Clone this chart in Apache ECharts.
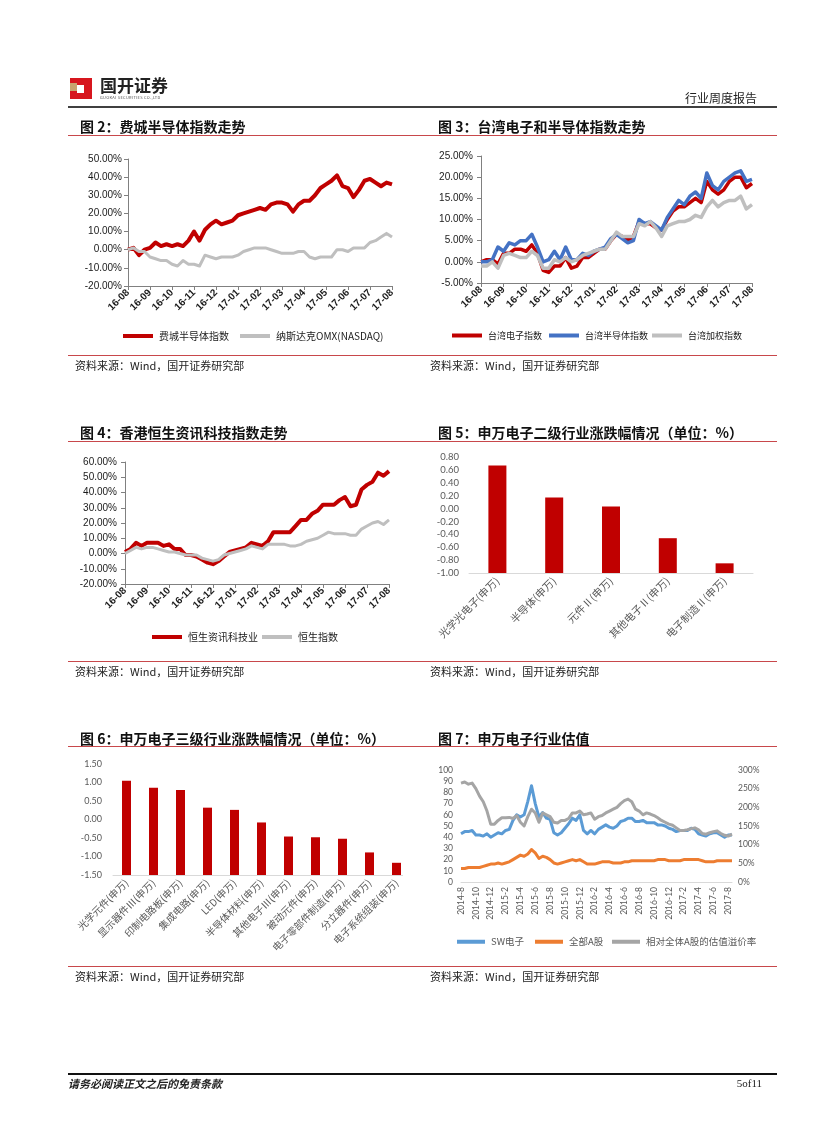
<!DOCTYPE html>
<html><head><meta charset="utf-8">
<script src="https://cdn.jsdelivr.net/npm/echarts@6/dist/echarts.min.js"></script>
<style>
html,body{margin:0;padding:0;background:#fff;}
body{width:827px;height:1122px;position:relative;overflow:hidden;font-family:'Noto Sans CJK SC',sans-serif;}
#chart{position:absolute;left:0;top:0;width:827px;height:1122px;}
.abs{position:absolute;white-space:nowrap;}
.ttl{font-size:14px;font-weight:700;color:#111;line-height:16px;}
.src{font-size:11px;color:#222;line-height:14px;}
.tl{position:absolute;left:68px;width:709px;height:1px;background:#c8484b;}
.sl{position:absolute;left:68px;width:709px;height:1px;background:#c8484b;}
</style></head><body>
<div id="chart"></div>

<!-- header -->
<div class="abs" style="left:70px;top:78px;width:22px;height:21px;background:#d7161e;"></div>
<div class="abs" style="left:70px;top:83px;width:7px;height:8px;background:#c8a46e;"></div>
<div class="abs" style="left:77px;top:85px;width:7px;height:8px;background:#fff;"></div>
<div class="abs" style="left:100px;top:75px;font-size:17px;font-weight:700;line-height:20px;color:#222;">国开证券</div>
<div class="abs" style="left:100px;top:95px;font-size:4px;line-height:5px;color:#555;letter-spacing:0.3px;">GUOKAI SECURITIES CO.,LTD</div>
<div class="abs" style="right:70px;top:91px;font-size:12px;line-height:14px;color:#222;">行业周度报告</div>
<div class="abs" style="left:68px;top:106px;width:709px;height:2px;background:#404040;"></div>

<!-- row 1 -->
<div class="abs ttl" style="left:80px;top:118px;">图 2：费城半导体指数走势</div>
<div class="abs ttl" style="left:438px;top:118px;">图 3：台湾电子和半导体指数走势</div>
<div class="tl" style="top:135px;"></div>
<div class="sl" style="top:355px;"></div>
<div class="abs src" style="left:75px;top:358px;">资料来源：Wind，国开证券研究部</div>
<div class="abs src" style="left:430px;top:358px;">资料来源：Wind，国开证券研究部</div>

<!-- row 2 -->
<div class="abs ttl" style="left:80px;top:424px;">图 4：香港恒生资讯科技指数走势</div>
<div class="abs ttl" style="left:438px;top:424px;">图 5：申万电子二级行业涨跌幅情况（单位：%）</div>
<div class="tl" style="top:441px;"></div>
<div class="sl" style="top:661px;"></div>
<div class="abs src" style="left:75px;top:664px;">资料来源：Wind，国开证券研究部</div>
<div class="abs src" style="left:430px;top:664px;">资料来源：Wind，国开证券研究部</div>

<!-- row 3 -->
<div class="abs ttl" style="left:80px;top:730px;">图 6：申万电子三级行业涨跌幅情况（单位：%）</div>
<div class="abs ttl" style="left:438px;top:730px;">图 7：申万电子行业估值</div>
<div class="tl" style="top:746px;"></div>
<div class="sl" style="top:966px;"></div>
<div class="abs src" style="left:75px;top:969px;">资料来源：Wind，国开证券研究部</div>
<div class="abs src" style="left:430px;top:969px;">资料来源：Wind，国开证券研究部</div>

<!-- footer -->
<div class="abs" style="left:68px;top:1073px;width:709px;height:2px;background:#111;"></div>
<div class="abs" style="left:68px;top:1076px;font-size:11px;line-height:14px;font-weight:700;font-style:italic;color:#222;">请务必阅读正文之后的免责条款</div>
<div class="abs" style="right:65px;top:1076px;font-size:11px;line-height:14px;font-family:'Liberation Serif',serif;color:#222;">5of11</div>

<script>
// ---------- data ----------
const months1 = ['16-08','16-09','16-10','16-11','16-12','17-01','17-02','17-03','17-04','17-05','17-06','17-07','17-08'];

// Fig 2 (%, ~weekly)
const sox    = [0,1,-3,0, 1,4,2,3, 2,3,2,5, 10,5,11,14, 16,14,15,16, 19,20,21,22, 23,22,25,26, 26,25,21,25, 27,27,30,34, 36,38,41,35, 34,29,33,38, 39,37,35,37, 36];
const nasdaq = [0,1,-1,-1, -4,-5,-6,-6, -8,-9,-6,-8, -8,-9,-3,-4, -5,-4,-4,-4, -3,-1,0,1, 1,1,0,-1, -2,-2,-2,-1, -1,-4,-5,-4, -4,-4,0,0, -1,1,1,1, 4,5,7,9, 7];

// Fig 3 (%)
const twElec  = [0,0.5,0.5,-0.5, 2,2,3,3, 2.5,4,2,-2, -2.5,-1,-1,1, -1.5,-1,1,1, 2,3,3,5, 6.5,6,5,6, 9.5,9,9,8, 7.5,10,12,13, 13,14,15,14, 19,17,16,17, 19,20,20,17.5, 18.5];
const twSemi  = [0,0,0.5,3.5, 2.5,4.5,4,5, 5,6.5,3.5,0, 0.5,2.5,0.5,3.5, 0.5,0.5,2,1.5, 2.5,3,3.5,5.5, 6.5,5.5,4.5,5, 10,9,9.5,8.5, 7.5,10.5,12.5,14.5, 13.5,15.5,16.5,15, 21,18,17,19, 20,21,21.5,19, 19.5];
const twTaiex = [-1,-1,0,-1.5, 1.5,2,1.5,1, 1,2.5,1.5,-1.5, -1.5,0.5,0,1, 0,0.5,1.5,2, 2.5,3,3,5, 7,6,6,6, 9,8.5,9.5,8, 6,8.5,9,9.5, 9.5,10,11,10.5, 13,14.5,13,14, 14.5,14.5,15.5,12.5, 13.5];

// Fig 4 (%)
const hsIT = [1,3,7,5, 7,7,7,5, 6,3,3,-1, -1,-2,-4,-6, -7,-5,-2,1, 2,3,4,7, 6,5,8,14, 14,14,14,18, 22,22,26,28, 32,32,32,35, 37,31,32,42, 45,47,53,51, 54];
const hsi  = [0,2,4,3, 4,4,3,2, 1,1,0,-1, -1,-1,-3,-4, -5,-4,-1,0, 1,2,3,5, 4,3,6,6, 6,6,5,5, 6,8,9,10, 12,14,13,13, 13,12,12,16, 18,20,21,19, 22];

// Fig 5
const cats5 = ['光学光电子(申万)','半导体(申万)','元件Ⅱ(申万)','其他电子Ⅱ(申万)','电子制造Ⅱ(申万)'];
const vals5 = [0.67, 0.17, 0.03, -0.46, -0.85];

// Fig 6
const cats6 = ['光学元件(申万)','显示器件Ⅲ(申万)','印制电路板(申万)','集成电路(申万)','LED(申万)','半导体材料(申万)','其他电子Ⅲ(申万)','被动元件(申万)','电子零部件制造(申万)','分立器件(申万)','电子系统组装(申万)'];
const vals6 = [1.05, 0.86, 0.80, 0.32, 0.26, -0.08, -0.46, -0.48, -0.52, -0.89, -1.17];

// Fig 7 (semi-monthly)
const months7 = ['2014-8','2014-10','2014-12','2015-2','2015-4','2015-6','2015-8','2015-10','2015-12','2016-2','2016-4','2016-6','2016-8','2016-10','2016-12','2017-2','2017-4','2017-6','2017-8'];
const swElec  = [43,45,45,46, 42,42,41,43, 40,42,44,43, 46,47,55,60, 58,60,72,86, 70,58,62,57, 56,44,42,44, 48,52,57,55, 60,46,43,46, 43,47,49,51, 49,48,50,54, 55,57,57,54, 54,55,53,53, 53,51,51,50, 48,47,45,46, 46,46,48,47, 43,42,41,43, 44,44,42,40, 42,42];
const allA    = [12,12,13,13, 13,13,14,15, 16,16,17,16, 17,18,20,22, 24,23,25,29, 26,21,23,22, 20,17,16,17, 18,19,20,19, 20,18,16,16, 16,17,18,18, 18,17,17,17, 18,18,19,19, 19,19,19,19, 19,20,20,20, 19,19,19,19, 20,20,20,20, 20,19,18,18, 18,19,19,19, 19,19];
const premium = [265,268,262,265, 250,230,215,190, 155,155,165,172, 172,173,170,178, 160,150,175,195, 185,160,185,180, 175,160,158,165, 165,170,185,185, 190,180,182,185, 168,175,178,185, 190,195,200,210, 218,222,215,195, 190,180,185,182, 178,172,165,160, 155,152,145,138, 138,140,143,145, 140,130,128,132, 135,137,130,125, 123,128];

// ---------- build ----------
const FA = "'Liberation Sans','Noto Sans CJK SC',sans-serif";
const FL = "Lato,'Noto Sans CJK SC',sans-serif";
const FC = "'Noto Sans CJK SC',Lato,sans-serif";
const RED = '#C00000', GRAY = '#BFBFBF', BLUE = '#4472C4';

const idx = arr => arr.map((_, i) => String(i));

const grids = [
  {left:128, top:159, width:264, height:127},
  {left:481, top:156, width:271, height:127},
  {left:125, top:462, width:264, height:122},
  {left:469, top:457, width:284, height:116},
  {left:113, top:764, width:297, height:111},
  {left:461, top:770, width:271, height:112}
];

function lineX(gi, n, labels, step) {
  return {
    type:'category', gridIndex:gi, data: idx(n), boundaryGap:false,
    axisLine:{show:true, onZero:false, lineStyle:{color:'#808080', width:1}},
    axisTick:{show:true, interval:step-1, length:4, lineStyle:{color:'#808080'}},
    axisLabel:{interval:step-1, rotate:45, margin:5, fontSize:10, fontWeight:'bold', fontFamily:FA, color:'#1a1a1a',
      formatter:(v,i)=> labels[i/step] || ''},
    splitLine:{show:false}
  };
}
function lineY(gi, min, max, step, margin) {
  return {
    type:'value', gridIndex:gi, min, max, interval:step,
    axisLine:{show:true, lineStyle:{color:'#808080', width:1}},
    axisTick:{show:true, length:4, lineStyle:{color:'#808080'}},
    axisLabel:{margin, fontSize:10, fontFamily:FA, color:'#1a1a1a', formatter:v=>v.toFixed(2)+'%'},
    splitLine:{show:false}
  };
}
function fmtShift(base){ return v => { let r = Math.round((v+base)*100)/100; return r.toFixed(2); }; }
function barX(gi, cats, size) {
  return {
    type:'category', gridIndex:gi, data:cats, boundaryGap:true,
    axisLine:{show:true, onZero:false, lineStyle:{color:'#D9D9D9', width:1}},
    axisTick:{show:false},
    axisLabel:{interval:0, rotate:45, margin:6, fontSize:size, fontFamily:FC, color:'#595959'},
    splitLine:{show:false}
  };
}
function barY(gi, base, span, step, margin, size) {
  return {
    type:'value', gridIndex:gi, min:0, max:span, interval:step,
    axisLine:{show:false}, axisTick:{show:false}, splitLine:{show:false},
    axisLabel:{margin, fontSize:size, fontFamily:FL, color:'#595959', formatter:fmtShift(base)}
  };
}
function ln(name, xi, yi, data, color, width) {
  return {type:'line', name, xAxisIndex:xi, yAxisIndex:yi, data, color,
    symbol:'none', showSymbol:false, lineStyle:{color, width, join:'round'}, emphasis:{disabled:true}, animation:false};
}
function lg(name, left, top, size, w, h, color) {
  return {show:true, left, top, padding:0, itemWidth:w, itemHeight:h, icon:'rect', data:[name], selectedMode:false,
    textStyle:{fontSize:size, fontFamily:FC, color:color||'#1a1a1a', padding:[0,0,0,1]}, itemGap:0};
}

const base5 = -1.0, base6 = -1.5;

const option = {
  animation:false,
  tooltip:{show:false},
  grid: grids.map(g => Object.assign({containLabel:false}, g)),
  xAxis: [
    lineX(0, sox, months1, 4),
    lineX(1, twElec, months1, 4),
    lineX(2, hsIT, months1, 4),
    barX(3, cats5, 10.5),
    barX(4, cats6, 10),
    {
      type:'category', gridIndex:5, data: idx(swElec), boundaryGap:false,
      axisLine:{show:true, onZero:false, lineStyle:{color:'#D9D9D9', width:1}},
      axisTick:{show:false},
      axisLabel:{interval:3, rotate:90, margin:5, fontSize:8.5, fontFamily:FL, color:'#595959',
        formatter:(v,i)=> months7[i/4] || ''},
      splitLine:{show:false}
    }
  ],
  yAxis: [
    lineY(0, -20, 50, 10, 6),
    lineY(1, -5, 25, 5, 8),
    lineY(2, -20, 60, 10, 8),
    barY(3, base5, 1.8, 0.2, 10, 9.5),
    barY(4, base6, 3.0, 0.5, 11, 9),
    {type:'value', gridIndex:5, min:0, max:100, interval:10, position:'left',
      axisLine:{show:false}, axisTick:{show:false}, splitLine:{show:false},
      axisLabel:{margin:8, fontSize:8.5, fontFamily:FL, color:'#595959'}},
    {type:'value', gridIndex:5, min:0, max:300, interval:50, position:'right',
      axisLine:{show:false}, axisTick:{show:false}, splitLine:{show:false},
      axisLabel:{margin:6, fontSize:8.5, fontFamily:FL, color:'#595959', formatter:v=>v+'%'}}
  ],
  legend: [
    lg('费城半导体指数', 123, 331, 10, 30, 4),
    lg('纳斯达克OMX(NASDAQ)', 240, 331, 10, 30, 4),
    lg('台湾电子指数', 452, 331, 9, 30, 4),
    lg('台湾半导体指数', 549, 331, 9, 30, 4),
    lg('台湾加权指数', 652, 331, 9, 30, 4),
    lg('恒生资讯科技业', 152, 632, 10, 30, 4),
    lg('恒生指数', 262, 632, 10, 30, 4),
    lg('SW电子', 457, 937, 9.5, 28, 4, '#595959'),
    lg('全部A股', 535, 937, 9.5, 28, 4, '#595959'),
    lg('相对全体A股的估值溢价率', 612, 937, 9.5, 28, 4, '#595959')
  ],
  series: [
    ln('费城半导体指数', 0, 0, sox, RED, 4),
    ln('纳斯达克OMX(NASDAQ)', 0, 0, nasdaq, GRAY, 3),
    ln('台湾电子指数', 1, 1, twElec, RED, 3.5),
    ln('台湾半导体指数', 1, 1, twSemi, BLUE, 3.5),
    ln('台湾加权指数', 1, 1, twTaiex, GRAY, 3.5),
    ln('恒生资讯科技业', 2, 2, hsIT, RED, 4),
    ln('恒生指数', 2, 2, hsi, GRAY, 3),
    {type:'bar', name:'二级行业', xAxisIndex:3, yAxisIndex:3, barWidth:18, color:RED,
      data: vals5.map(v => +(v - base5).toFixed(4)), itemStyle:{color:RED}, emphasis:{disabled:true}},
    {type:'bar', name:'三级行业', xAxisIndex:4, yAxisIndex:4, barWidth:9, color:RED,
      data: vals6.map(v => +(v - base6).toFixed(4)), itemStyle:{color:RED}, emphasis:{disabled:true}},
    ln('SW电子', 5, 5, swElec, '#5B9BD5', 3),
    ln('全部A股', 5, 5, allA, '#ED7D31', 3),
    ln('相对全体A股的估值溢价率', 5, 6, premium, '#A5A5A5', 3)
  ]
};

const chart = echarts.init(document.getElementById('chart'), null, {renderer:'canvas'});
chart.setOption(option);
</script>
<div class="abs" style="left:403px;top:868px;width:20px;height:12px;background:#fff;"></div>
</body></html>
